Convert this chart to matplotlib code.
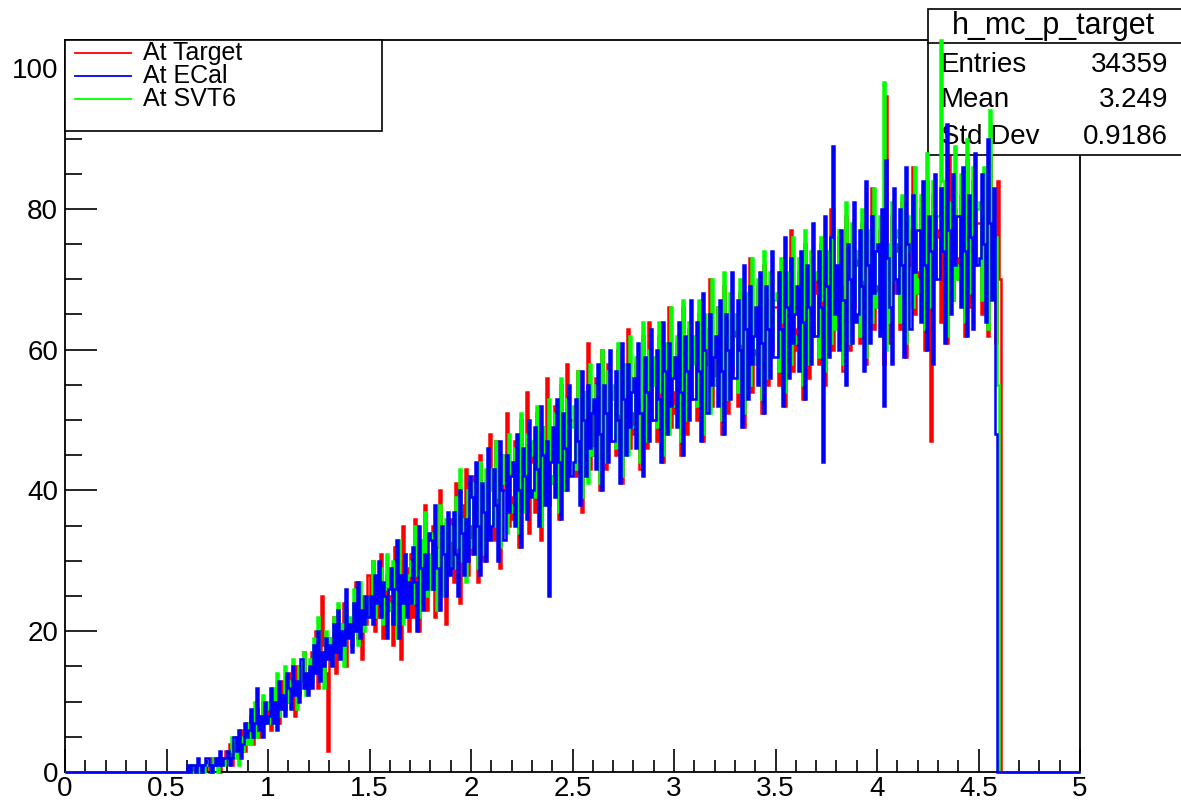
import matplotlib
matplotlib.use("Agg")
import matplotlib.pyplot as plt
import numpy as np
from matplotlib.patches import Rectangle
from matplotlib.lines import Line2D

plt.rcParams["font.family"] = ["Liberation Sans", "DejaVu Sans"]

# histogram binning: 0..5 in steps of 0.01, data start at 0.60
X_MIN, X_MAX = 0.0, 5.0
N_BINS = 500
FIRST_BIN = 60

# counts per 0.01 bin, from 0.60 upward (one row = 0.1)
p_target = [
    0, 0, 1, 0, 0, 1, 0, 0, 1, 1,
    1, 0, 2, 1, 1, 2, 0, 1, 2, 3,
    2, 4, 1, 3, 5, 2, 6, 4, 3, 7,
    5, 8, 4, 7, 9, 5, 6, 10, 7, 8,
    9, 6, 11, 8, 12, 7, 10, 13, 9, 11,
    10, 14, 12, 8, 15, 11, 13, 17, 12, 14,
    13, 17, 15, 20, 12, 16, 25, 18, 14, 3,
    16, 19, 22, 14, 18, 21, 17, 24, 15, 20,
    21, 18, 24, 27, 19, 22, 16, 25, 21, 28,
    24, 30, 20, 26, 22, 31, 19, 25, 28, 23,
    25, 18, 32, 22, 30, 16, 35, 24, 29, 20,
    31, 22, 36, 26, 20, 33, 28, 38, 23, 30,
    27, 35, 22, 32, 40, 26, 30, 21, 36, 29,
    36, 27, 41, 30, 24, 38, 33, 43, 28, 35,
    31, 42, 35, 27, 45, 38, 30, 40, 34, 48,
    42, 33, 47, 37, 29, 45, 40, 51, 35, 39,
    36, 47, 41, 32, 50, 43, 38, 54, 34, 44,
    46, 37, 51, 40, 33, 49, 44, 56, 38, 42,
    41, 52, 45, 36, 55, 48, 40, 58, 44, 50,
    50, 42, 57, 45, 37, 54, 48, 61, 43, 52,
    45, 56, 49, 40, 60, 52, 43, 58, 47, 54,
    54, 45, 60, 49, 41, 57, 52, 63, 46, 51,
    48, 58, 52, 43, 62, 55, 46, 64, 50, 57,
    57, 47, 62, 52, 44, 60, 55, 66, 49, 54,
    51, 61, 55, 45, 66, 58, 48, 63, 53, 60,
    60, 50, 65, 56, 47, 63, 58, 70, 52, 59,
    55, 66, 58, 48, 69, 61, 51, 64, 57, 62,
    63, 52, 68, 59, 49, 66, 61, 73, 54, 60,
    58, 69, 61, 51, 72, 64, 55, 67, 60, 66,
    66, 55, 71, 62, 52, 69, 64, 77, 57, 63,
    60, 71, 63, 53, 75, 67, 56, 70, 62, 68,
    70, 58, 75, 65, 55, 72, 68, 80, 60, 66,
    64, 76, 67, 57, 79, 71, 60, 74, 66, 72,
    73, 61, 78, 68, 58, 75, 71, 83, 63, 69,
    66, 77, 69, 58, 96, 73, 61, 79, 68, 74,
    75, 63, 81, 70, 59, 77, 72, 86, 65, 71,
    68, 80, 71, 60, 84, 75, 47, 82, 70, 76,
    77, 64, 83, 72, 61, 90, 74, 67, 80, 73,
    70, 82, 73, 62, 87, 76, 66, 84, 72, 78,
    78, 65, 84, 71, 62, 88, 74, 68, 61, 84,
    70,
]

p_ecal = [
    1, 0, 1, 1, 0, 2, 1, 0, 1, 2,
    2, 1, 0, 1, 2, 1, 3, 1, 2, 2,
    3, 1, 2, 5, 3, 6, 2, 4, 7, 5,
    6, 9, 5, 7, 12, 6, 8, 5, 10, 7,
    8, 12, 7, 10, 6, 13, 9, 11, 8, 14,
    12, 9, 15, 11, 13, 10, 16, 12, 14, 11,
    15, 12, 18, 14, 20, 13, 17, 15, 19, 16,
    18, 15, 21, 17, 23, 16, 20, 18, 26, 19,
    21, 17, 24, 20, 27, 19, 23, 21, 25, 22,
    25, 21, 28, 24, 30, 22, 27, 25, 19, 26,
    29, 21, 26, 33, 19, 28, 24, 31, 22, 27,
    24, 32, 27, 20, 35, 29, 23, 31, 26, 34,
    33, 26, 38, 29, 23, 35, 31, 25, 37, 28,
    29, 37, 31, 25, 40, 34, 28, 36, 30, 42,
    39, 31, 44, 35, 28, 41, 37, 30, 46, 33,
    35, 43, 38, 30, 47, 40, 33, 45, 37, 42,
    44, 35, 48, 40, 32, 46, 42, 36, 50, 39,
    40, 49, 43, 35, 52, 45, 38, 47, 25, 44,
    49, 39, 53, 44, 36, 51, 46, 40, 55, 42,
    44, 53, 47, 38, 57, 50, 42, 55, 46, 51,
    53, 43, 58, 48, 40, 55, 51, 44, 60, 47,
    47, 57, 50, 41, 61, 53, 45, 58, 49, 54,
    56, 46, 61, 51, 42, 59, 54, 47, 63, 50,
    50, 60, 53, 44, 64, 57, 48, 61, 52, 56,
    59, 49, 64, 54, 45, 62, 57, 50, 67, 53,
    53, 64, 57, 47, 68, 60, 51, 65, 55, 59,
    62, 52, 67, 57, 48, 65, 60, 53, 71, 56,
    56, 67, 60, 49, 72, 63, 53, 69, 58, 62,
    66, 55, 71, 61, 51, 69, 63, 56, 74, 59,
    59, 71, 63, 52, 76, 66, 56, 73, 61, 65,
    69, 57, 74, 64, 53, 72, 66, 58, 78, 62,
    62, 74, 66, 44, 79, 69, 59, 76, 89, 65,
    72, 60, 77, 67, 55, 75, 70, 61, 81, 64,
    65, 77, 69, 57, 84, 72, 61, 79, 68, 74,
    75, 62, 80, 52, 87, 73, 66, 58, 83, 70,
    68, 80, 72, 59, 86, 75, 63, 82, 71, 77,
    77, 64, 84, 72, 60, 79, 74, 58, 85, 70,
    70, 83, 74, 61, 92, 77, 65, 85, 72, 79,
    79, 66, 86, 74, 62, 82, 76, 63, 88, 72,
    73, 85, 75, 64, 90, 78, 67, 83, 48, 0,
]

p_svt6 = [
    0, 1, 0, 0, 1, 0, 1, 1, 0, 1,
    1, 1, 0, 2, 1, 0, 1, 2, 1, 2,
    2, 3, 5, 2, 4, 1, 5, 3, 6, 4,
    7, 4, 6, 10, 5, 8, 6, 11, 7, 9,
    10, 7, 12, 9, 14, 8, 11, 9, 15, 10,
    13, 10, 16, 12, 9, 15, 13, 17, 11, 14,
    16, 13, 19, 15, 22, 14, 17, 12, 20, 16,
    19, 16, 22, 18, 24, 17, 21, 15, 23, 20,
    22, 19, 26, 21, 18, 27, 23, 20, 25, 22,
    25, 30, 22, 27, 24, 29, 21, 26, 31, 24,
    23, 30, 26, 19, 33, 27, 21, 31, 25, 28,
    30, 24, 35, 28, 22, 33, 27, 37, 25, 31,
    26, 34, 29, 23, 38, 31, 25, 36, 28, 33,
    35, 29, 39, 32, 43, 30, 36, 27, 40, 33,
    32, 41, 36, 29, 44, 38, 31, 43, 35, 40,
    43, 35, 47, 39, 32, 45, 41, 34, 48, 37,
    38, 46, 42, 34, 51, 44, 37, 48, 40, 45,
    47, 39, 52, 43, 35, 49, 45, 38, 53, 41,
    42, 51, 46, 37, 56, 48, 40, 53, 44, 49,
    52, 43, 57, 47, 39, 54, 49, 41, 58, 45,
    46, 55, 50, 41, 60, 52, 44, 57, 48, 53,
    55, 46, 61, 51, 42, 58, 53, 45, 62, 49,
    49, 59, 53, 44, 64, 56, 47, 60, 51, 55,
    59, 49, 64, 54, 45, 61, 56, 48, 66, 52,
    52, 62, 56, 47, 67, 59, 50, 64, 54, 58,
    62, 52, 67, 57, 48, 65, 59, 51, 70, 55,
    56, 66, 60, 50, 71, 62, 53, 68, 58, 63,
    65, 54, 70, 61, 51, 68, 62, 55, 73, 58,
    59, 70, 63, 53, 74, 66, 56, 71, 61, 67,
    68, 57, 73, 64, 54, 71, 66, 58, 76, 61,
    62, 73, 66, 55, 77, 69, 58, 74, 64, 70,
    71, 59, 76, 67, 57, 74, 69, 61, 80, 63,
    65, 77, 69, 58, 81, 72, 61, 78, 67, 73,
    74, 62, 80, 70, 59, 77, 72, 64, 83, 66,
    68, 79, 71, 98, 60, 75, 64, 81, 70, 76,
    77, 64, 82, 72, 61, 79, 74, 66, 86, 68,
    70, 82, 74, 63, 88, 77, 66, 84, 72, 79,
    79, 104, 84, 73, 62, 81, 76, 67, 89, 70,
    72, 85, 76, 64, 90, 79, 68, 86, 74, 80,
    81, 67, 86, 75, 63, 94, 78, 69, 76, 55,
]

SERIES = [
    ("At Target", p_target, "#ff0000", 2),
    ("At SVT6", p_svt6, "#00ff00", 3),
    ("At ECal", p_ecal, "#0000ff", 4),
]
LEGEND_ORDER = [("At Target", "#ff0000"), ("At ECal", "#0000ff"), ("At SVT6", "#00ff00")]

STATS_NAME = "h_mc_p_target"
STATS_ROWS = [("Entries", "34359"), ("Mean", "3.249"), ("Std Dev", "0.9186")]

W, H = 1181, 805


def fx(px):
    return px / W


def fy(py):
    return 1 - py / H


def full_hist(vals):
    counts = np.zeros(N_BINS)
    counts[FIRST_BIN:FIRST_BIN + len(vals)] = vals
    return counts


edges = np.linspace(X_MIN, X_MAX, N_BINS + 1)

fig = plt.figure(figsize=(W / 100, H / 100), dpi=100)
ax = fig.add_axes([fx(65), fy(772), fx(1080) - fx(65), fy(40) - fy(772)])

for label, vals, color, z in SERIES:
    ax.stairs(full_hist(vals), edges, color=color, lw=1.8, zorder=z, clip_on=False)

ax.set_xlim(X_MIN, X_MAX)
ax.set_ylim(0, 104)
ax.set_xticks(np.arange(0, 5.01, 0.5))
ax.set_xticklabels(["0", "0.5", "1", "1.5", "2", "2.5", "3", "3.5", "4", "4.5", "5"])
ax.set_xticks(np.arange(0, 5.01, 0.1), minor=True)
ax.set_yticks([0, 20, 40, 60, 80, 100])
ax.set_yticks(np.arange(0, 104, 5), minor=True)

ax.tick_params(axis="x", which="major", direction="in", length=16.5, width=1.2,
               labelsize=20, pad=3)
ax.tick_params(axis="x", which="minor", direction="in", length=8.6, width=1.2)
ax.tick_params(axis="y", which="major", direction="in", length=23, width=1.2,
               labelsize=20, pad=5)
ax.tick_params(axis="y", which="minor", direction="in", length=12.5, width=1.2)
for sp in ax.spines.values():
    sp.set_linewidth(1.3)

# stats box: covers the frame and the red histogram, the others run over it
tf = fig.transFigure
ax.add_patch(Rectangle((fx(928), fy(155)), fx(1190) - fx(928), fy(9) - fy(155),
                       transform=tf, facecolor="white", edgecolor="black",
                       lw=1.2, clip_on=False, zorder=2.7))
ax.add_line(Line2D([fx(928), fx(1190)], [fy(43), fy(43)], transform=tf,
                   color="black", lw=1.2, clip_on=False, zorder=2.8))
ax.text(fx(1053), fy(26), STATS_NAME, transform=tf, ha="center", va="center",
        fontsize=22, zorder=2.8)
for (name, val), ypx in zip(STATS_ROWS, [65, 100, 137]):
    ax.text(fx(941), fy(ypx), name, transform=tf, ha="left", va="center",
            fontsize=20, zorder=2.8)
    ax.text(fx(1168), fy(ypx), val, transform=tf, ha="right", va="center",
            fontsize=20, zorder=2.8)

# legend box
ax.add_patch(Rectangle((fx(65), fy(131)), fx(382) - fx(65), fy(40) - fy(131),
                       transform=tf, facecolor="white", edgecolor="black",
                       lw=1.2, clip_on=False, zorder=10))
for (label, color), ypx in zip(LEGEND_ORDER, [53, 76, 99]):
    ax.add_line(Line2D([fx(75), fx(131)], [fy(ypx), fy(ypx)], transform=tf,
                       color=color, lw=1.3, clip_on=False, zorder=11))
    ax.text(fx(143), fy(ypx), label, transform=tf, ha="left", va="center",
            fontsize=18, zorder=11)

fig.savefig("out.png", dpi=100)
